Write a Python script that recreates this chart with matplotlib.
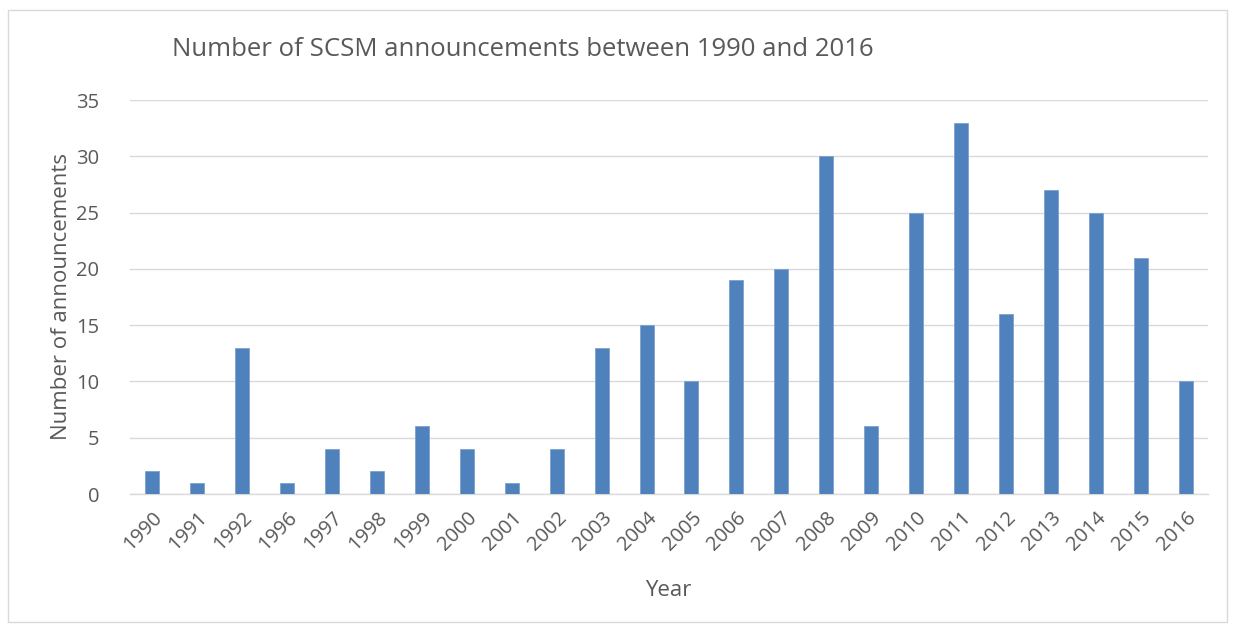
import matplotlib
matplotlib.use("Agg")
import matplotlib.pyplot as plt
from matplotlib.patches import Rectangle

years = ["1990", "1991", "1992", "1996", "1997", "1998", "1999", "2000", "2001", "2002",
         "2003", "2004", "2005", "2006", "2007", "2008", "2009", "2010", "2011", "2012",
         "2013", "2014", "2015", "2016"]
counts = [2, 1, 13, 1, 4, 2, 6, 4, 1, 4, 13, 15, 10, 19, 20, 30, 6, 25, 33, 16, 27, 25, 21, 10]
yticks = [0, 5, 10, 15, 20, 25, 30, 35]

plt.rcParams['font.family'] = ['Open Sans', 'DejaVu Sans']
txt = '#595959'
W, H = 1236, 629
fig = plt.figure(figsize=(W / 100, H / 100), dpi=100)
fig.patches.append(Rectangle((8 / W, 1 - 622 / H), (1227 - 8) / W, (622 - 10) / H,
                             transform=fig.transFigure, fill=False, edgecolor='#D9D9D9', lw=1))
ax = fig.add_axes([130 / W, 1 - 494 / H, (1208 - 130) / W, (494 - 100) / H])
x = list(range(len(years)))
ax.bar(x, counts, width=0.31, color='#4F81BD', edgecolor='#7FA1CF', linewidth=0.6, zorder=3)
ax.set_xlim(-0.5, len(years) - 0.5)
ax.set_ylim(0, 35)
ax.set_yticks(yticks)
ax.set_yticklabels([str(v) for v in yticks], fontsize=14.5, color=txt)
ax.set_xticks(x)
ax.set_xticklabels(years, rotation=45, ha='right', rotation_mode='anchor', fontsize=14.5, color=txt)
ax.tick_params(axis='both', length=0)
ax.tick_params(axis='y', pad=22)
ax.tick_params(axis='x', pad=10)
ax.grid(axis='y', color='#D9D9D9', lw=1, zorder=0)
for s in ['top', 'right', 'left']:
    ax.spines[s].set_visible(False)
ax.spines['bottom'].set_color('#D9D9D9')
ax.spines['bottom'].set_linewidth(1)
ax.set_ylabel('Number of announcements', fontsize=16, color=txt)
ax.yaxis.set_label_coords((62 - 130) / 1078, (494 - 297) / 394)
ax.yaxis.label.set_verticalalignment('center')
ax.set_xlabel('Year', fontsize=16, color=txt)
ax.xaxis.set_label_coords((668 - 130) / 1078, (494 - 590) / 394)
ax.xaxis.label.set_verticalalignment('center')
fig.text(172 / W, 1 - 50 / H, 'Number of SCSM announcements between 1990 and 2016',
         fontsize=18.5, color=txt, ha='left', va='center')
fig.savefig('out.png', dpi=100)
